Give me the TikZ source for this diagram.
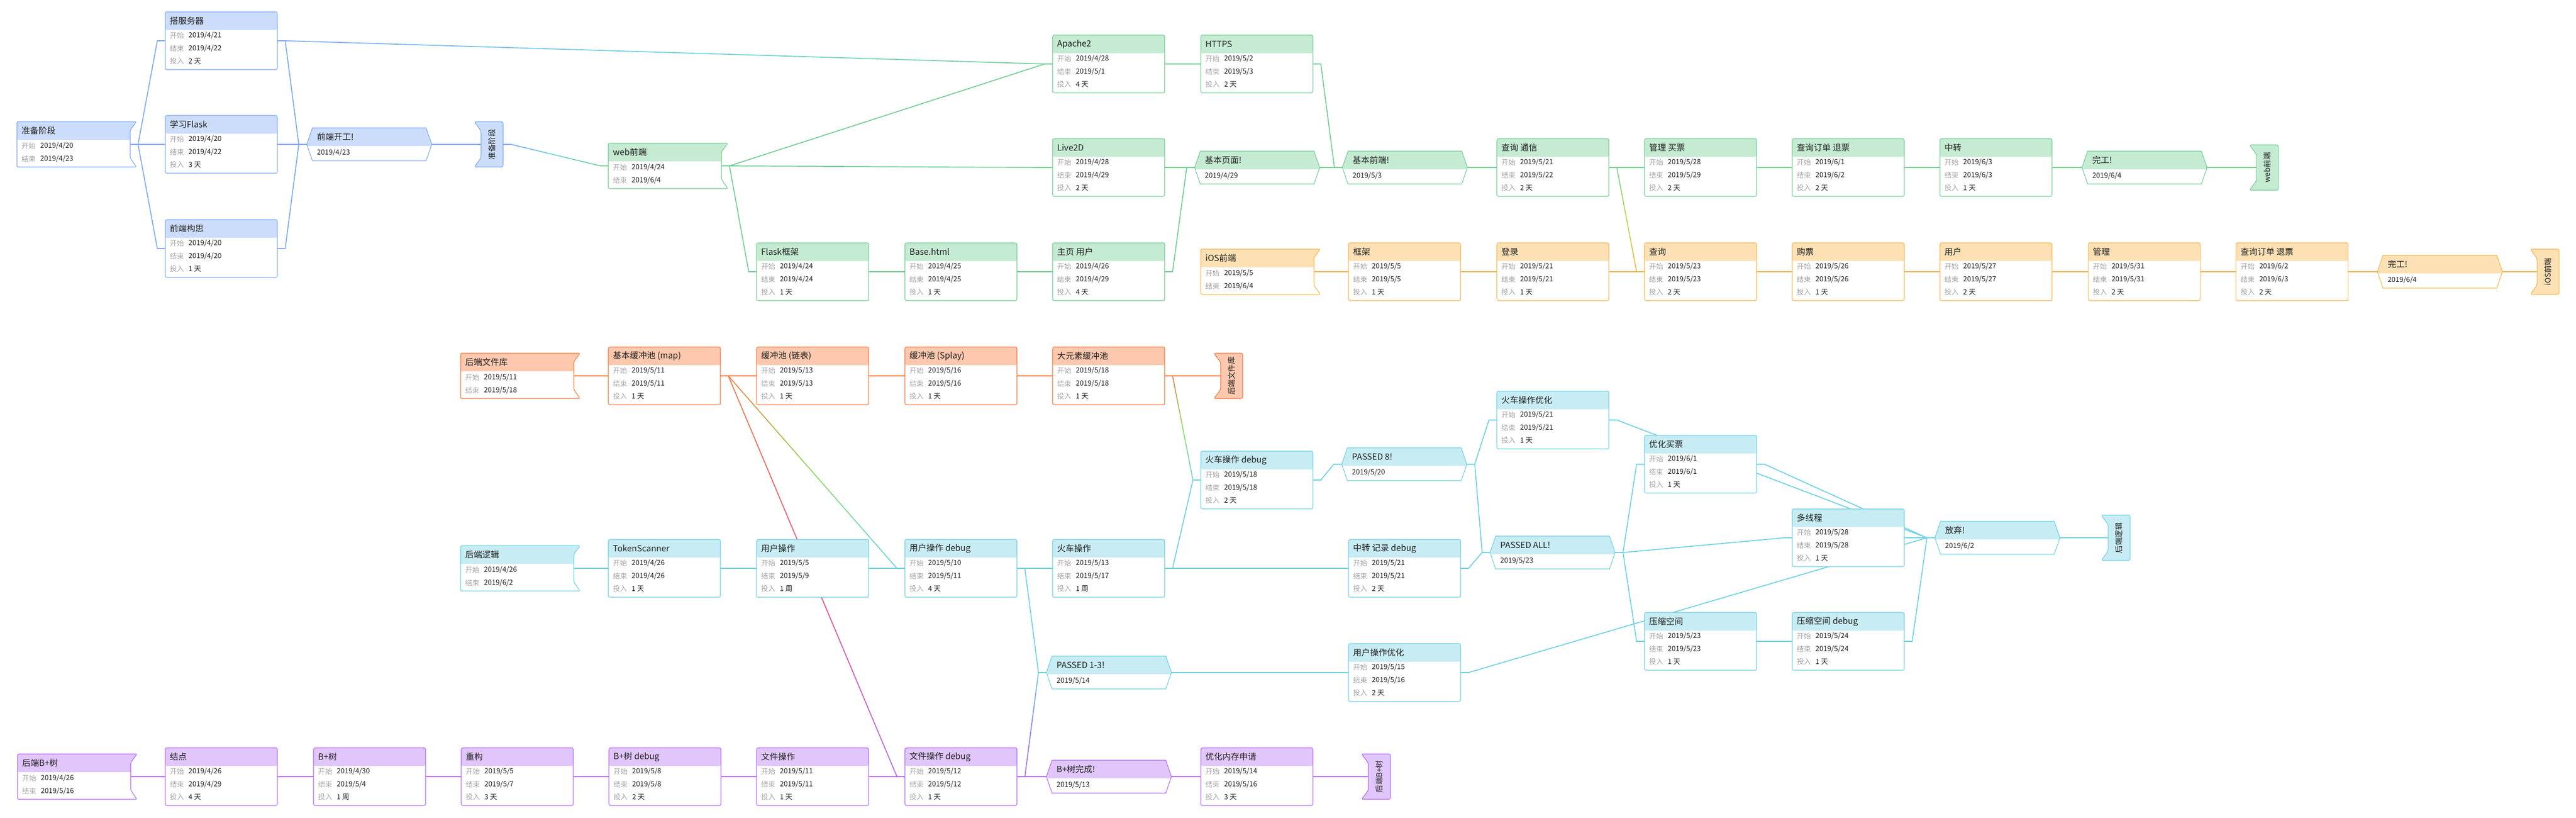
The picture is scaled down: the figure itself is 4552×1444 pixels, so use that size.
\documentclass[tikz,border=0pt]{standalone}
\usepackage{fontspec}
\setmainfont{Noto Sans CJK SC}
\usepackage{xcolor}
\usepackage{tikz}
\usetikzlibrary{calc}

\definecolor{bluline}{HTML}{80AAF6}
\definecolor{bluhead}{HTML}{CCDDFB}
\definecolor{grnline}{HTML}{74CF94}
\definecolor{grnhead}{HTML}{C5EBD3}
\definecolor{orgline}{HTML}{F8B74E}
\definecolor{orghead}{HTML}{FDE1B5}
\definecolor{salline}{HTML}{F47D45}
\definecolor{salhead}{HTML}{FDC8AE}
\definecolor{cyaline}{HTML}{70D2E4}
\definecolor{cyahead}{HTML}{C7ECF4}
\definecolor{purline}{HTML}{B46DF6}
\definecolor{purhead}{HTML}{E1C6FB}
\definecolor{midgrn}{HTML}{8CDE5E}
\definecolor{midpnk}{HTML}{EE4E86}
\definecolor{midblu}{HTML}{8088F6}
\definecolor{midylw}{HTML}{B8DA56}
\definecolor{labelgray}{HTML}{A5A5A5}
\definecolor{textblack}{HTML}{1E1E1E}

\newcommand\ttl{\fontsize{15}{18}\selectfont}
\newcommand\sml{\fontsize{12.5}{15}\selectfont}
\newcommand\vtl{\fontsize{13.5}{15}\selectfont}

\pgfdeclarelayer{bg}
\pgfsetlayers{bg,main}

\newcommand\task[8]{%
  \node[box=#4, minimum width=198pt, minimum height=102pt, rounded corners=3pt] (#1) at (#2+99,#3+51) {};
  \node[ttext] (#1t) at (#2+8,#3+16) {#5};
  \node[ltext] (#1a) at (#2+8,#3+42) {开始};
  \node[vtext] (#1s) at (#2+41,#3+42) {#6};
  \node[ltext] (#1b) at (#2+8,#3+65) {结束};
  \node[vtext] (#1e) at (#2+41,#3+65) {#7};
  \node[ltext] (#1c) at (#2+8,#3+87) {投入};
  \node[vtext] (#1d) at (#2+41,#3+87) {#8};
}
\newcommand\phase[7]{%
  \path[box=#4, rounded corners=2pt] (#2,#3) -- (#2+211,#3) -- (#2+200,#3+15) -- (#2+200,#3+64)
    -- (#2+211,#3+80) -- (#2,#3+80) -- cycle;
  \node[hold, minimum width=200pt, minimum height=80pt] (#1) at (#2+100,#3+40) {};
  \node[ttext] (#1t) at (#2+8,#3+16) {#5};
  \node[ltext] (#1a) at (#2+8,#3+43) {开始};
  \node[vtext] (#1s) at (#2+41,#3+43) {#6};
  \node[ltext] (#1b) at (#2+8,#3+66) {结束};
  \node[vtext] (#1e) at (#2+41,#3+66) {#7};
}
\newcommand\mstone[6]{%
  \path[box=#4] (#2+10,#3) -- (#2+211,#3) -- (#2+221,#3+29) -- (#2+211,#3+58)
    -- (#2+10,#3+58) -- (#2,#3+29) -- cycle;
  \node[hold, minimum width=221pt, minimum height=58pt] (#1) at (#2+110.5,#3+29) {};
  \node[ttext] (#1t) at (#2+18,#3+16) {#5};
  \node[vtext] (#1d) at (#2+18,#3+44) {#6};
}
\newcommand\emark[5]{%
  \path[draw=#4line, line width=1.1pt, fill=#4head, rounded corners=3pt] (#2,#3) -- (#2+51,#3)
    -- (#2+51,#3+80) -- (#2,#3+80) -- (#2+12,#3+64) -- (#2+12,#3+16) -- cycle;
  \node[hold, minimum width=39pt, minimum height=80pt] (#1) at (#2+31.5,#3+40) {};
  \node[rotate=90, inner sep=0pt, text=textblack, font=\vtl] (#1t) at (#1) {#5};
}
\newcommand\link[3]{\draw[conn, #3] (#1.east) -- ++(14,0) -- ([xshift=-14pt]#2.west) -- (#2.west);}
\newcommand\rainbow[5]{%
  \foreach \i in {0,...,11}{%
    \pgfmathsetmacro\ta{\i/12}%
    \pgfmathsetmacro\tb{(\i+1)/12}%
    \ifnum\i<6
      \pgfmathtruncatemacro\pc{100-(\i+0.5)*100/6}\def\ca{#3}\def\cb{#4}%
    \else
      \pgfmathtruncatemacro\pc{100-(\i-5.5)*100/6}\def\ca{#4}\def\cb{#5}%
    \fi
    \draw[conn, draw=\ca!\pc!\cb] ($(#1)!\ta!(#2)$) -- ($(#1)!\tb!(#2)$);
  }}
\newcommand\glink[5]{%
  \draw[conn, #3] (#1.east) -- ++(14,0) coordinate (ga);
  \draw[conn, #5] ([xshift=-14pt]#2.west) coordinate (gb) -- (#2.west);
  \rainbow{ga}{gb}{#3}{#4}{#5}}

\begin{document}
\begin{tikzpicture}[x=1pt, y=-1pt,
  conn/.style={line width=1.7pt, line cap=round, line join=round},
  hold/.style={inner sep=0pt, outer sep=0pt, draw=none},
  box/.style={draw=#1line, line width=1.1pt, fill=white, inner sep=0pt, outer sep=0pt,
    path picture={\fill[#1head] (path picture bounding box.north west) rectangle
      ([yshift=-32pt]path picture bounding box.north east);}},
  ttext/.style={anchor=west, inner sep=0pt, text=textblack, font=\ttl},
  ltext/.style={anchor=west, inner sep=0pt, text=labelgray, font=\sml},
  vtext/.style={anchor=west, inner sep=0pt, text=textblack, font=\sml}]
\useasboundingbox (0,0) rectangle (4552,1444);

\phase{prep}{30}{215}{blu}{准备阶段}{2019/4/20}{2019/4/23}
\task{fwq}{292}{21}{blu}{搭服务器}{2019/4/21}{2019/4/22}{2 天}
\task{flask}{292}{204}{blu}{学习Flask}{2019/4/20}{2019/4/22}{3 天}
\task{gousi}{292}{388}{blu}{前端构思}{2019/4/20}{2019/4/20}{1 天}
\mstone{kaigong}{542}{226}{blu}{前端开工!}{2019/4/23}
\emark{prepend}{838}{215}{blu}{准备阶段}

\phase{web}{1075}{253}{grn}{web前端}{2019/4/24}{2019/6/4}
\task{apache}{1860}{62}{grn}{Apache2}{2019/4/28}{2019/5/1}{4 天}
\task{https}{2122}{62}{grn}{HTTPS}{2019/5/2}{2019/5/3}{2 天}
\task{live}{1860}{245}{grn}{Live2D}{2019/4/28}{2019/4/29}{2 天}
\task{fkj}{1337}{429}{grn}{Flask框架}{2019/4/24}{2019/4/24}{1 天}
\task{basehtml}{1599}{429}{grn}{Base.html}{2019/4/25}{2019/4/25}{1 天}
\task{zhuye}{1860}{429}{grn}{主页 用户}{2019/4/26}{2019/4/29}{4 天}
\mstone{jbym}{2111}{267}{grn}{基本页面!}{2019/4/29}
\mstone{jbqd}{2372}{267}{grn}{基本前端!}{2019/5/3}
\task{cxtx}{2645}{245}{grn}{查询 通信}{2019/5/21}{2019/5/22}{2 天}
\task{glmp}{2906}{245}{grn}{管理 买票}{2019/5/28}{2019/5/29}{2 天}
\task{cxdd}{3167}{245}{grn}{查询订单 退票}{2019/6/1}{2019/6/2}{2 天}
\task{zz}{3428}{245}{grn}{中转}{2019/6/3}{2019/6/3}{1 天}
\mstone{wgweb}{3679}{267}{grn}{完工!}{2019/6/4}
\emark{webend}{3975}{256}{grn}{web前端}

\phase{ios}{2122}{440}{org}{iOS前端}{2019/5/5}{2019/6/4}
\task{ikj}{2383}{429}{org}{框架}{2019/5/5}{2019/5/5}{1 天}
\task{idl}{2645}{429}{org}{登录}{2019/5/21}{2019/5/21}{1 天}
\task{icx}{2906}{429}{org}{查询}{2019/5/23}{2019/5/23}{2 天}
\task{igp}{3167}{429}{org}{购票}{2019/5/26}{2019/5/26}{1 天}
\task{iyh}{3428}{429}{org}{用户}{2019/5/27}{2019/5/27}{2 天}
\task{igl}{3690}{429}{org}{管理}{2019/5/31}{2019/5/31}{2 天}
\task{icd}{3951}{429}{org}{查询订单 退票}{2019/6/2}{2019/6/3}{2 天}
\mstone{wgios}{4201}{451}{org}{完工!}{2019/6/4}
\emark{iosend}{4471}{440}{org}{iOS前端}

\phase{filelib}{814}{624}{sal}{后端文件库}{2019/5/11}{2019/5/18}
\task{bmap}{1075}{613}{sal}{基本缓冲池 (map)}{2019/5/11}{2019/5/11}{1 天}
\task{blist}{1337}{613}{sal}{缓冲池 (链表)}{2019/5/13}{2019/5/13}{1 天}
\task{bsplay}{1599}{613}{sal}{缓冲池 (Splay)}{2019/5/16}{2019/5/16}{1 天}
\task{bbig}{1860}{613}{sal}{大元素缓冲池}{2019/5/18}{2019/5/18}{1 天}
\emark{fileend}{2145}{624}{sal}{后端文件库}

\phase{logic}{814}{964}{cya}{后端逻辑}{2019/4/26}{2019/6/2}
\task{token}{1075}{953}{cya}{TokenScanner}{2019/4/26}{2019/4/26}{1 天}
\task{yhcz}{1337}{953}{cya}{用户操作}{2019/5/5}{2019/5/9}{1 周}
\task{yhdbg}{1599}{953}{cya}{用户操作 debug}{2019/5/10}{2019/5/11}{4 天}
\task{hccz}{1860}{953}{cya}{火车操作}{2019/5/13}{2019/5/17}{1 周}
\task{hcdbg}{2122}{797}{cya}{火车操作 debug}{2019/5/18}{2019/5/18}{2 天}
\mstone{p8}{2371}{791}{cya}{PASSED 8!}{2019/5/20}
\task{hcyh}{2645}{691}{cya}{火车操作优化}{2019/5/21}{2019/5/21}{1 天}
\task{zzdbg}{2383}{953}{cya}{中转 记录 debug}{2019/5/21}{2019/5/21}{2 天}
\mstone{pall}{2633}{947}{cya}{PASSED ALL!}{2019/5/23}
\mstone{p13}{1849}{1159}{cya}{PASSED 1-3!}{2019/5/14}
\task{yhyh}{2383}{1137}{cya}{用户操作优化}{2019/5/15}{2019/5/16}{2 天}
\task{yhmp}{2906}{769}{cya}{优化买票}{2019/6/1}{2019/6/1}{1 天}
\task{dxc}{3167}{899}{cya}{多线程}{2019/5/28}{2019/5/28}{1 天}
\task{yskj}{2906}{1082}{cya}{压缩空间}{2019/5/23}{2019/5/23}{1 天}
\task{ysdbg}{3167}{1082}{cya}{压缩空间 debug}{2019/5/24}{2019/5/24}{1 天}
\mstone{fq}{3419}{921}{cya}{放弃!}{2019/6/2}
\emark{logicend}{3713}{910}{cya}{后端逻辑}

\phase{bstart}{31}{1332}{pur}{后端B+树}{2019/4/26}{2019/5/16}
\task{jd}{292}{1321}{pur}{结点}{2019/4/26}{2019/4/29}{4 天}
\task{bptree}{554}{1321}{pur}{B+树}{2019/4/30}{2019/5/4}{1 周}
\task{cg}{815}{1321}{pur}{重构}{2019/5/5}{2019/5/7}{3 天}
\task{bpdbg}{1076}{1321}{pur}{B+树 debug}{2019/5/8}{2019/5/8}{2 天}
\task{wjcz}{1337}{1321}{pur}{文件操作}{2019/5/11}{2019/5/11}{1 天}
\task{wjdbg}{1599}{1321}{pur}{文件操作 debug}{2019/5/12}{2019/5/12}{1 天}
\mstone{bpdone}{1849}{1343}{pur}{B+树完成!}{2019/5/13}
\task{ncsq}{2122}{1321}{pur}{优化内存申请}{2019/5/14}{2019/5/16}{3 天}
\emark{bpend}{2406}{1332}{pur}{后端B+树}

\begin{pgfonlayer}{bg}
\fill[white] (0,0) rectangle (4552,1444);
\foreach \a/\b/\c in {prep/fwq/bluline, prep/flask/bluline, prep/gousi/bluline,
  fwq/kaigong/bluline, flask/kaigong/bluline, gousi/kaigong/bluline, kaigong/prepend/bluline,
  web/apache/grnline, web/live/grnline, web/fkj/grnline, apache/https/grnline,
  https/jbqd/grnline, live/jbym/grnline, zhuye/jbym/grnline, fkj/basehtml/grnline,
  basehtml/zhuye/grnline, jbym/jbqd/grnline, jbqd/cxtx/grnline, cxtx/glmp/grnline,
  glmp/cxdd/grnline, cxdd/zz/grnline, zz/wgweb/grnline, wgweb/webend/grnline,
  ios/ikj/orgline, ikj/idl/orgline, idl/icx/orgline, icx/igp/orgline, igp/iyh/orgline,
  iyh/igl/orgline, igl/icd/orgline, icd/wgios/orgline, wgios/iosend/orgline,
  filelib/bmap/salline, bmap/blist/salline, blist/bsplay/salline, bsplay/bbig/salline,
  bbig/fileend/salline,
  logic/token/cyaline, token/yhcz/cyaline, yhcz/yhdbg/cyaline, yhdbg/hccz/cyaline,
  hccz/zzdbg/cyaline, hccz/hcdbg/cyaline, yhdbg/p13/cyaline, hcdbg/p8/cyaline,
  p8/hcyh/cyaline, p8/pall/cyaline, zzdbg/pall/cyaline, p13/yhyh/cyaline,
  pall/yhmp/cyaline, pall/dxc/cyaline, pall/yskj/cyaline, hcyh/fq/cyaline,
  yhmp/fq/cyaline, dxc/fq/cyaline, yhyh/fq/cyaline, yskj/ysdbg/cyaline,
  ysdbg/fq/cyaline, fq/logicend/cyaline,
  bstart/jd/purline, jd/bptree/purline, bptree/cg/purline, cg/bpdbg/purline,
  bpdbg/wjcz/purline, wjcz/wjdbg/purline, wjdbg/bpdone/purline, bpdone/ncsq/purline,
  ncsq/bpend/purline}
  \link{\a}{\b}{\c};
\glink{fwq}{apache}{bluline}{cyaline}{grnline}
\glink{prepend}{web}{bluline}{cyaline}{grnline}
\glink{cxtx}{icx}{grnline}{midylw}{orgline}
\glink{bmap}{yhdbg}{salline}{midgrn}{cyaline}
\glink{bmap}{wjdbg}{salline}{midpnk}{purline}
\glink{bbig}{hcdbg}{salline}{midgrn}{cyaline}
\glink{wjdbg}{p13}{purline}{midblu}{cyaline}
\end{pgfonlayer}
\end{tikzpicture}
\end{document}
